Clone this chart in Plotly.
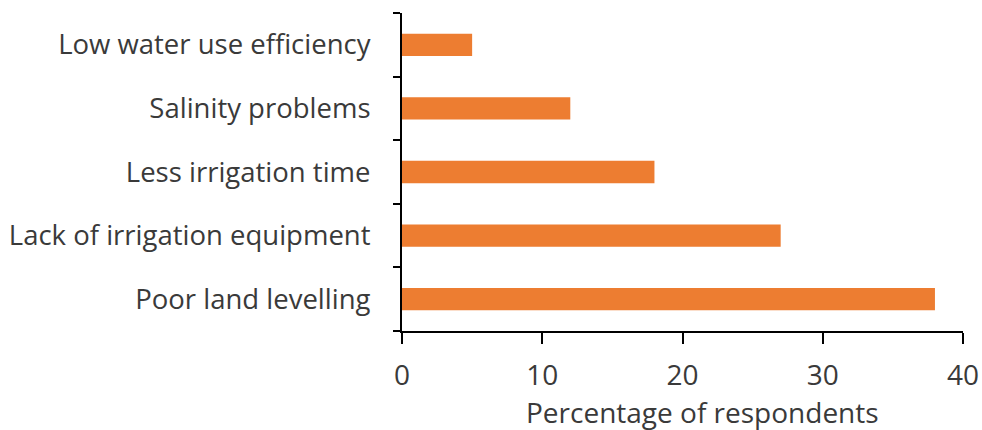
import plotly.graph_objects as go

categories = ["Poor land levelling", "Lack of irrigation equipment", "Less irrigation time",
              "Salinity problems", "Low water use efficiency"]
values = [38, 27, 18, 12, 5]
x_ticks = [0, 10, 20, 30, 40]
x_title = "Percentage of respondents"

font_family = "'Open Sans', sans-serif"
text_color = "#3a3a3a"
fs = 28

fig = go.Figure(go.Bar(
    x=values, y=categories, orientation="h",
    marker=dict(color="#ED7D31", line=dict(width=0)),
))

fig.update_layout(
    width=982, height=430,
    margin=dict(l=402, r=19, t=13, b=99),
    paper_bgcolor="white", plot_bgcolor="white",
    bargap=0.65,
    showlegend=False,
    font=dict(family=font_family, size=fs, color=text_color),
)

fig.update_xaxes(
    range=[0, 40], tickvals=x_ticks, ticktext=[str(t) for t in x_ticks],
    showgrid=False, zeroline=False, automargin=False,
    showline=True, linecolor="black", linewidth=2,
    ticks="outside", ticklen=11, tickwidth=2, tickcolor="black",
    ticklabelstandoff=7, ticklabeloverflow="allow",
    tickfont=dict(size=fs, color=text_color),
)

fig.add_annotation(
    text=x_title, xref="paper", yref="paper", x=0.535, y=-0.255,
    xanchor="center", yanchor="middle", showarrow=False,
    font=dict(size=fs, color=text_color),
)

fig.update_yaxes(
    categoryorder="array", categoryarray=categories,
    showgrid=False, zeroline=False, automargin=False,
    showline=True, linecolor="black", linewidth=2,
    ticks="outside", ticklen=7, tickwidth=2, tickcolor="black",
    tickson="boundaries",
    ticklabelstandoff=24,
    tickfont=dict(size=27.5, color=text_color),
)

fig.write_html("out.html")
